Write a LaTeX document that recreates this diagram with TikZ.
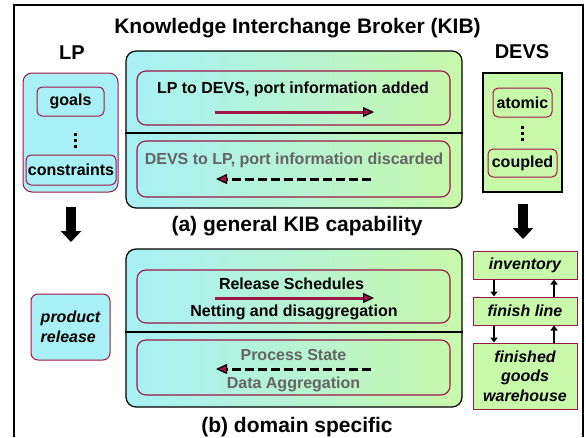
\documentclass[tikz,border=0pt]{standalone}
\usepackage{fontspec}
\setmainfont{Liberation Sans}
\usetikzlibrary{arrows.meta,positioning}
\definecolor{kibcyan}{RGB}{168,240,246}
\definecolor{kibgreen}{RGB}{200,248,170}
\definecolor{kibred}{RGB}{160,20,70}
\definecolor{kibgray}{RGB}{100,100,100}

\tikzset{
  kibbox/.style={draw=black,line width=1.2pt,rounded corners=10pt,
    left color=kibcyan,right color=kibgreen,middle color=kibcyan!55!kibgreen,
    minimum width=336pt},
  flowbox/.style={draw=kibred,line width=1.1pt,rounded corners=9pt,minimum width=313pt},
  flowtext/.style={font=\fontsize{16}{19}\selectfont\bfseries,inner sep=0pt},
  backtext/.style={flowtext,text=kibgray},
  bigtext/.style={font=\fontsize{21}{25}\selectfont\bfseries,inner sep=0pt},
  itembox/.style={draw=kibred,line width=1pt,rounded corners=5pt,
    font=\fontsize{16}{19}\selectfont\bfseries,inner sep=0pt},
  dotmark/.style={fill=black,minimum size=3pt,inner sep=0pt},
  stagebox/.style={draw=kibred,line width=1pt,fill=kibgreen,minimum width=104pt,
    font=\fontsize{16}{19.5}\selectfont\bfseries\itshape,align=center,inner sep=0pt},
  fwdarrow/.style={draw=kibred,line width=3pt,
    -{Triangle[length=11pt,width=10pt,fill=kibred,color=black,line width=1.2pt]}},
  backarrow/.style={draw=black,line width=3pt,dash pattern=on 9pt off 4pt,
    -{Triangle[length=11pt,width=10pt,fill=kibred,color=black,line width=1.2pt]}},
  downarrow/.style={line width=10pt,-{Triangle[length=11pt,width=20pt]}},
  smallarrow/.style={line width=1.6pt,-{Triangle[length=5pt,width=7pt]}}
}

\begin{document}
\begin{tikzpicture}[x=1pt,y=-1pt]
\useasboundingbox (0,0) rectangle (586,437);
\draw[line width=1.2pt] (14,437) -- (14,5) -- (583,5) -- (583,437);

% titles
\node[bigtext] (title) at (297.5,28) {Knowledge Interchange Broker (KIB)};
\node[font=\fontsize{20}{24}\selectfont\bfseries,inner sep=0pt] (lplabel) at (72,53) {LP};
\node[font=\fontsize{20}{24}\selectfont\bfseries,inner sep=0pt] (devslabel) at (522,52) {DEVS};

% (a) general KIB capability
\node[kibbox,minimum height=157pt] (kibA) at (294,129.5) {};
\draw[line width=1.2pt] (kibA.west |- 0,133) -- (kibA.east |- 0,133);
\node[flowbox,minimum height=54pt] (lpdevs) at (293.5,98) {};
\node[flowbox,minimum height=56pt] (devslp) at (293.5,169) {};
\node[flowtext] (lpdevsT) at (293,89) {LP to DEVS, port information added};
\node[backtext] (devslpT) at (294,160) {DEVS to LP, port information discarded};
\coordinate (aS) at (215,112);
\coordinate (aE) at (374,112);
\draw[fwdarrow] (aS) -- (aE);
\coordinate (bS) at (371,179);
\coordinate (bE) at (216,179);
\draw[backarrow] (bS) -- (bE);
\node[bigtext] (capA) at (297,226) {(a) general KIB capability};

% LP side
\node[draw=kibred,line width=1pt,rounded corners=9pt,fill=kibcyan,
  minimum width=95pt,minimum height=119pt] (lpbox) at (70.5,132.5) {};
\node[itembox,minimum width=67pt,minimum height=29pt] (goals) at (70.5,101.5) {goals};
\foreach \y in {134,140,146} \node[dotmark] at (75,\y) {};
\node[itembox,minimum width=90pt,minimum height=30pt] (constraints) at (71,170) {constraints};

% DEVS side
\node[draw=black,line width=1.2pt,fill=kibgreen,
  minimum width=79pt,minimum height=119pt] (devsbox) at (522.5,132.5) {};
\node[itembox,minimum width=59pt,minimum height=29pt] (atomic) at (522.5,102.5) {atomic};
\foreach \y in {127,133,139} \node[dotmark] at (522,\y) {};
\node[itembox,minimum width=69pt,minimum height=28pt] (coupled) at (522.5,163) {coupled};

\coordinate (lpdownS) at (71,207);
\coordinate (lpdownE) at (71,242);
\draw[downarrow] (lpdownS) -- (lpdownE);
\coordinate (devsdownS) at (523,204);
\coordinate (devsdownE) at (523,239);
\draw[downarrow] (devsdownS) -- (devsdownE);

% (b) domain specific
\node[kibbox,minimum height=158pt] (kibB) at (294,328) {};
\draw[line width=1.2pt] (kibB.west |- 0,332) -- (kibB.east |- 0,332);
\node[flowbox,minimum height=53pt] (release) at (293.5,296.5) {};
\node[flowbox,minimum height=55pt] (process) at (293.5,367.5) {};
\node[flowtext] (releaseT) at (291.5,284) {Release Schedules};
\node[flowtext] (nettingT) at (294,312) {Netting and disaggregation};
\node[backtext] (processT) at (293.5,355) {Process State};
\node[backtext] (aggT) at (293.5,384) {Data Aggregation};
\coordinate (cS) at (215,298);
\coordinate (cE) at (374,298);
\draw[fwdarrow] (cS) -- (cE);
\coordinate (dS) at (371,369);
\coordinate (dE) at (216,369);
\draw[backarrow] (dS) -- (dE);
\node[bigtext] (capB) at (297,427) {(b) domain specific};

\node[draw=kibred,line width=1pt,rounded corners=7pt,fill=kibcyan,
  minimum width=79pt,minimum height=66pt,align=left,
  font=\fontsize{16}{19.5}\selectfont\bfseries\itshape] (product) at (70.5,327) {product\\release};

\node[stagebox,minimum height=28pt] (inventory) at (525,265) {inventory};
\node[stagebox,minimum height=28pt] (finish) at (525,311) {finish line};
\node[stagebox,minimum height=66pt] (warehouse) at (525,376) {finished\\goods\\warehouse};
\draw[smallarrow] (inventory.south -| 494,0) -- (finish.north -| 494,0);
\draw[smallarrow] (finish.north -| 554,0) -- (inventory.south -| 554,0);
\draw[smallarrow] (finish.south -| 494,0) -- (warehouse.north -| 494,0);
\draw[smallarrow] (warehouse.north -| 554,0) -- (finish.south -| 554,0);
\end{tikzpicture}
\end{document}
